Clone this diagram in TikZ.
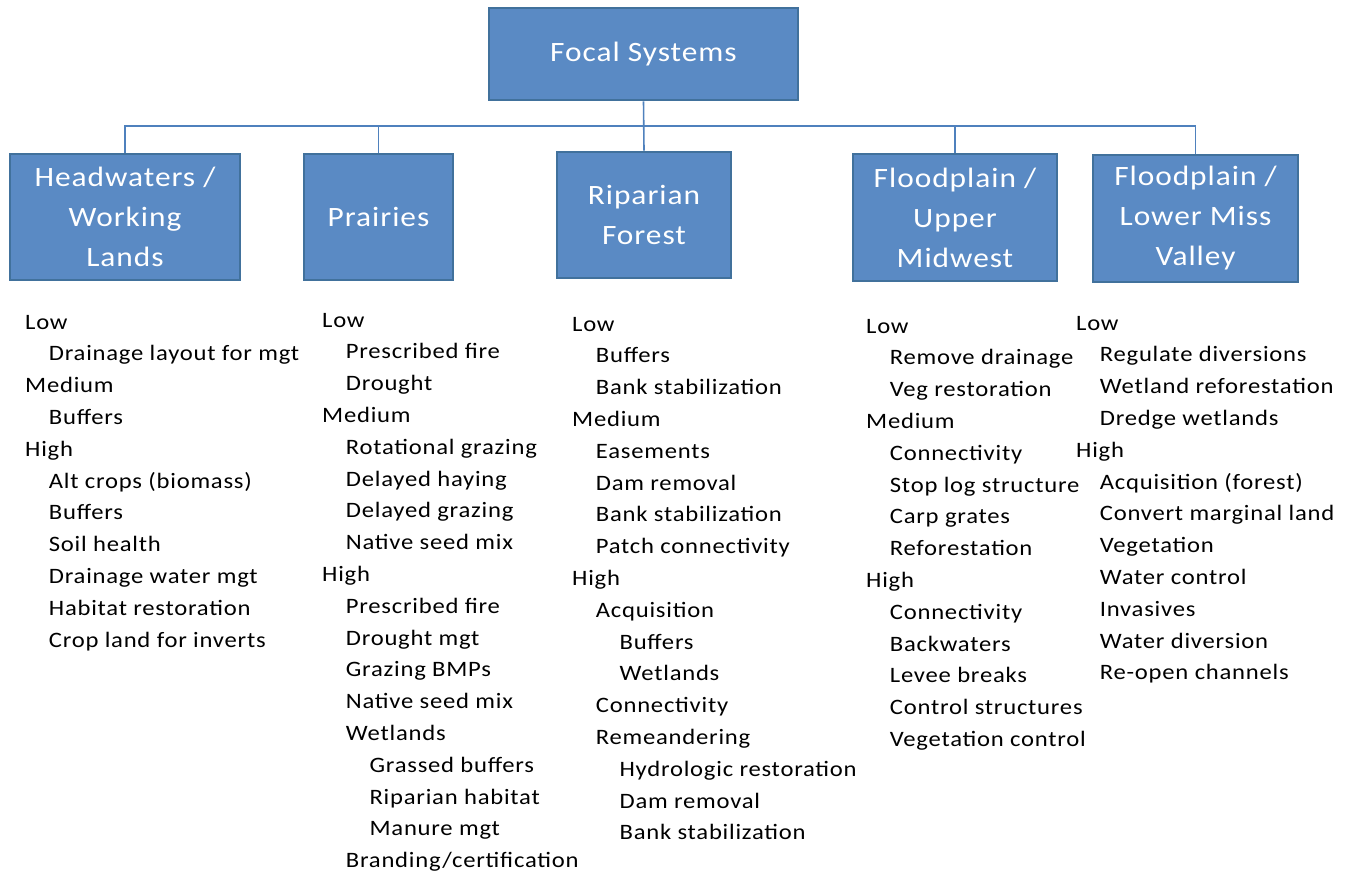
\documentclass[tikz,border=0pt]{standalone}
\usepackage{fontspec}
\setmainfont{Carlito}[FakeStretch=1.12,LetterSpace=3.5]
\definecolor{boxfill}{HTML}{5A8AC4}
\definecolor{boxline}{HTML}{41719C}
\definecolor{linkc}{HTML}{4F81BD}
\tikzset{
  catbox/.style={draw=boxline, line width=2.6pt, fill=boxfill, text=white, align=center,
    inner sep=0pt, font=\fontsize{28}{40}\selectfont},
  item/.style={anchor=base west, inner sep=0pt, font=\fontsize{22}{26}\selectfont, text=black},
  link/.style={draw=linkc, line width=1.6pt}
}
\begin{document}
\begin{tikzpicture}[x=1pt,y=-1pt]
\useasboundingbox (0,0) rectangle (1349,875);
\node[catbox, minimum width=309pt, minimum height=92pt] (fs) at (643.5,54) {Focal Systems};
\node[catbox, minimum width=230pt, minimum height=126pt] (hw) at (125,217) {Headwaters /\\Working\\Lands};
\node[catbox, minimum width=149pt, minimum height=126pt] (pr) at (378.5,217) {Prairies};
\node[catbox, minimum width=174pt, minimum height=126pt] (rf) at (644,215) {Riparian\\Forest};
\node[catbox, minimum width=204pt, minimum height=127pt] (um) at (955,217.5) {Floodplain /\\Upper\\Midwest};
\node[catbox, minimum width=205pt, minimum height=127pt] (lm) at (1195.5,218.5) {Floodplain /\\Lower Miss\\Valley};
\coordinate (bus) at (644,126);
\draw[link] (fs.south) -- (rf.north);
\draw[link] (hw.north) |- (bus) -| (lm.north);
\draw[link] (pr.north) -- (pr.north |- bus);
\draw[link] (um.north) -- (um.north |- bus);
% column 1
\foreach \lvl/\txt [count=\i] in {0/Low, 1/Drainage layout for mgt, 0/Medium, 1/Buffers, 0/High,
  1/Alt crops (biomass), 1/Buffers, 1/Soil health, 1/Drainage water mgt, 1/Habitat restoration,
  1/Crop land for inverts}
  \node[item] (a\i) at ({25+23.7*\lvl},{329+31.8*(\i-1)}) {\txt};
% column 2
\foreach \lvl/\txt [count=\i] in {0/Low, 1/Prescribed fire, 1/Drought, 0/Medium, 1/Rotational grazing,
  1/Delayed haying, 1/Delayed grazing, 1/Native seed mix, 0/High, 1/Prescribed fire, 1/Drought mgt,
  1/Grazing BMPs, 1/Native seed mix, 1/Wetlands, 2/Grassed buffers, 2/Riparian habitat, 2/Manure mgt,
  1/{Branding/certification}}
  \node[item] (b\i) at ({322+23.7*\lvl},{327+31.8*(\i-1)}) {\txt};
% column 3
\foreach \lvl/\txt [count=\i] in {0/Low, 1/Buffers, 1/Bank stabilization, 0/Medium, 1/Easements,
  1/Dam removal, 1/Bank stabilization, 1/Patch connectivity, 0/High, 1/Acquisition, 2/Buffers,
  2/Wetlands, 1/Connectivity, 1/Remeandering, 2/Hydrologic restoration, 2/Dam removal,
  2/Bank stabilization}
  \node[item] (c\i) at ({572+23.7*\lvl},{331+31.8*(\i-1)}) {\txt};
% column 4
\foreach \lvl/\txt [count=\i] in {0/Low, 1/Remove drainage, 1/Veg restoration, 0/Medium,
  1/Connectivity, 1/Stop log structure, 1/Carp grates, 1/Reforestation, 0/High, 1/Connectivity,
  1/Backwaters, 1/Levee breaks, 1/Control structures, 1/Vegetation control}
  \node[item] (d\i) at ({866+23.7*\lvl},{333+31.8*(\i-1)}) {\txt};
% column 5
\foreach \lvl/\txt [count=\i] in {0/Low, 1/Regulate diversions, 1/Wetland reforestation,
  1/Dredge wetlands, 0/High, 1/Acquisition (forest), 1/Convert marginal land, 1/Vegetation,
  1/Water control, 1/Invasives, 1/Water diversion, 1/Re-open channels}
  \node[item] (e\i) at ({1076+23.7*\lvl},{330+31.8*(\i-1)}) {\txt};
\end{tikzpicture}
\end{document}
